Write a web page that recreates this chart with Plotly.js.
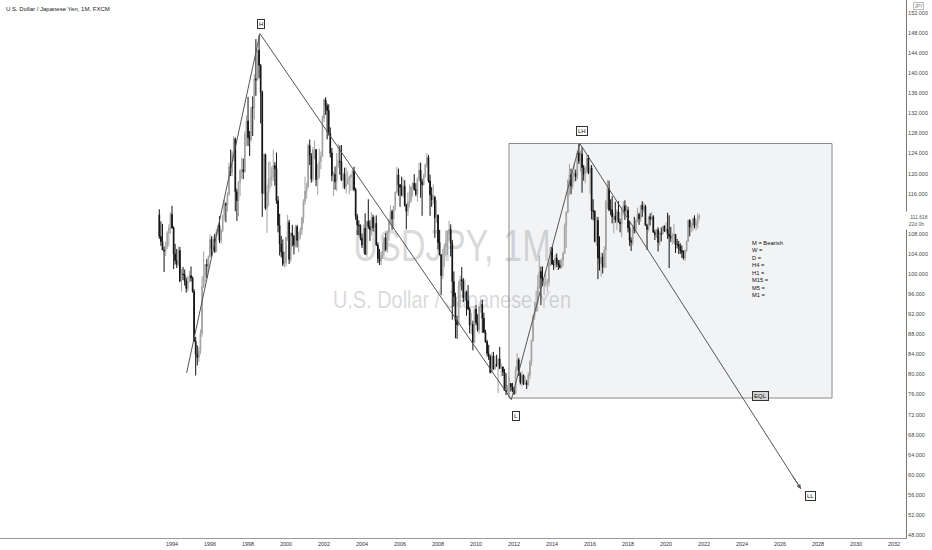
<!DOCTYPE html>
<html><head><meta charset="utf-8">
<script src="https://cdn.plot.ly/plotly-3.0.1.min.js"></script>
<style>html,body{margin:0;padding:0;background:#fff}#chart{width:932px;height:550px}</style>
</head><body><div id="chart"></div>
<script>
// USD/JPY monthly candles, May 1993 .. Oct 2021
const startYear = 1993, startMonth = 5;
const openP = [
111.8,107.5,106.5,104.8,104.6,105.6,108.2,109.2,
111.9,109.2,104.0,102.7,101.9,104.7,98.6,100.0,99.9,98.6,97.1,98.6,
99.7,99.2,96.5,86.6,84.0,83.4,84.7,88.2,97.5,99.7,101.9,101.6,
103.4,106.9,105.0,106.9,104.5,108.3,109.6,106.7,108.7,111.5,114.0,113.8,
115.9,121.4,120.2,124.0,126.9,116.4,114.6,118.3,120.6,120.8,120.4,127.9,
130.5,127.2,126.8,133.2,133.1,138.9,138.7,144.6,141.6,136.2,116.1,123.8,
113.1,116.3,118.9,118.9,119.4,121.6,121.0,114.6,109.7,106.0,104.4,102.0,
102.2,107.3,110.3,102.9,108.2,107.6,105.8,109.4,106.7,107.9,108.8,111.2,
114.4,116.5,117.4,125.6,123.6,118.9,124.7,124.8,118.8,119.3,122.4,123.4,
131.0,134.7,133.5,132.6,128.0,124.1,119.6,119.9,118.4,121.8,122.5,122.4,
118.7,119.9,117.3,118.0,118.9,119.3,119.8,120.6,116.8,111.5,109.8,109.6,
107.2,105.8,109.1,103.9,110.5,109.5,108.8,111.3,109.2,110.1,105.8,103.1,
102.6,103.6,104.6,107.2,104.9,108.5,110.8,112.5,111.0,113.5,116.3,119.8,
117.8,117.3,115.8,117.5,113.8,112.5,114.4,114.6,117.4,118.1,116.9,115.9,
119.0,120.7,118.4,117.8,119.5,121.7,123.2,118.6,115.8,114.8,115.3,111.2,
111.7,106.3,103.8,99.7,104.0,105.5,106.2,108.1,108.9,106.1,98.5,95.5,
90.7,89.9,97.6,98.9,98.6,95.3,96.4,94.7,93.0,89.8,90.0,86.4,
93.0,90.3,88.9,93.5,94.0,91.2,88.4,86.5,84.2,83.5,80.4,83.7,
81.1,82.0,81.8,83.1,81.2,81.5,80.5,76.8,76.6,77.1,78.2,77.6,
76.9,76.2,80.9,82.9,80.0,78.4,79.8,78.1,78.4,77.9,79.8,82.5,
86.8,91.7,92.6,94.2,97.4,100.5,99.2,97.9,98.2,98.3,98.4,102.4,
105.3,102.0,101.8,103.2,102.2,101.8,101.3,102.8,104.1,109.6,112.3,118.6,
119.8,117.5,119.6,120.1,119.4,124.1,122.5,123.9,121.2,119.9,120.6,123.1,
120.2,121.1,112.6,112.5,106.5,110.7,103.2,102.1,103.4,101.4,104.8,114.5,
117.0,112.8,112.8,111.4,111.5,110.8,112.4,110.3,110.0,112.5,113.6,112.5,
112.7,109.2,106.7,106.3,109.3,108.8,110.7,111.9,111.0,113.7,112.9,113.5,
109.7,108.9,111.4,110.9,111.4,108.3,107.8,108.8,106.3,108.1,108.0,109.5,
108.6,108.9,107.9,107.5,107.2,107.8,107.9,105.9,105.9,105.5,104.7,104.3,
103.2,104.7,106.6,110.7,109.3,109.6,111.1,109.7,110.0,111.3
];
const highP = [
112.9,110.5,110.0,105.5,106.5,108.6,109.9,112.3,
113.6,109.5,106.0,105.0,105.5,105.4,101.0,101.4,100.9,99.3,99.6,100.6,
101.5,99.5,97.0,87.5,85.8,85.5,89.0,99.5,104.5,101.5,103.0,103.7,
107.9,107.5,107.5,108.0,109.0,109.7,111.5,108.9,111.8,114.8,114.3,116.3,
122.2,124.8,124.5,127.5,127.2,117.0,118.5,120.9,123.2,123.0,128.5,131.6,
135.3,128.5,133.2,135.4,139.8,146.8,144.7,147.6,141.8,136.5,124.0,124.0,
117.8,122.4,122.4,121.4,124.8,122.3,124.2,115.5,112.0,107.6,106.9,104.5,
107.4,111.8,110.8,108.2,109.8,107.7,109.8,109.8,108.4,109.3,111.4,114.9,
119.4,118.2,126.0,126.8,124.1,125.3,126.6,124.9,121.9,125.0,124.4,131.6,
135.0,135.2,134.0,133.8,129.2,125.1,120.4,121.4,124.1,126.0,125.6,125.7,
120.3,121.2,121.2,120.5,119.6,119.9,120.9,121.4,117.2,112.0,110.7,109.9,
108.1,109.8,112.1,110.5,114.9,110.7,112.3,111.8,111.5,111.7,106.3,105.0,
104.6,106.3,107.4,108.2,108.5,111.0,113.7,112.8,113.6,116.4,121.4,121.0,
117.9,119.4,119.0,118.7,114.0,116.3,117.8,117.4,118.3,119.9,118.1,119.2,
122.2,122.2,119.0,120.0,122.0,124.1,123.7,119.8,117.3,117.9,115.6,114.7,
111.9,108.8,104.0,105.0,106.0,108.6,108.6,110.6,109.9,106.8,100.5,96.3,
91.7,98.6,99.7,101.4,99.2,98.9,96.7,97.8,93.4,92.3,90.7,93.1,
93.8,92.0,93.7,95.0,94.9,92.3,88.9,86.9,85.9,83.9,84.4,84.5,
83.7,83.9,83.3,85.5,82.2,81.6,81.1,80.2,77.9,79.5,78.3,78.3,
77.5,81.6,84.2,83.3,80.4,80.6,80.0,79.6,78.9,80.4,82.8,86.9,
91.8,94.5,96.7,99.9,103.7,101.5,101.5,99.1,100.6,99.0,102.6,105.4,
105.4,102.8,103.8,104.1,102.8,102.8,103.1,104.5,110.1,112.5,118.9,121.9,
121.0,120.5,122.0,120.8,124.5,125.9,124.6,125.3,121.7,121.5,123.8,123.7,
121.7,121.7,114.9,112.7,111.4,111.4,107.5,104.3,104.2,105.5,114.8,118.7,
118.6,114.9,115.5,112.2,114.4,112.9,114.5,111.0,113.3,114.5,114.7,113.8,
113.4,110.5,107.3,109.8,111.4,111.0,113.2,112.2,113.7,114.5,114.2,113.8,
110.0,111.5,112.1,112.4,111.7,108.8,109.0,109.3,108.5,109.3,109.7,109.7,
110.3,112.2,111.7,109.4,108.1,109.9,107.9,107.0,106.6,106.1,105.7,104.7,
104.9,106.7,110.9,110.9,110.2,111.1,111.7,110.8,112.1,112.0
];
const lowP = [
107.0,105.6,104.8,100.4,103.6,105.0,105.5,108.0,
109.0,101.0,101.9,101.2,101.5,98.4,96.5,98.8,97.7,96.3,96.5,98.4,
98.5,96.3,86.6,79.8,81.8,82.5,84.0,87.5,97.2,98.4,99.2,100.5,
103.3,103.5,104.7,104.2,104.3,107.7,106.2,106.0,108.4,110.6,110.3,112.5,
115.6,119.5,119.5,122.5,112.5,110.6,111.5,115.5,119.0,118.9,120.2,125.5,
125.5,123.5,126.4,127.5,130.8,135.5,138.5,139.0,130.0,111.4,115.9,112.8,
108.2,113.5,117.0,117.5,118.5,117.6,114.0,108.3,103.7,103.3,101.6,101.3,
101.5,106.6,102.0,102.4,105.5,103.9,105.3,105.3,104.3,107.0,107.8,110.1,
113.8,115.0,117.1,121.7,118.2,118.3,122.9,117.5,115.8,119.0,120.9,123.3,
130.3,131.7,126.8,127.6,123.2,118.5,115.5,116.8,116.5,121.1,119.8,118.6,
117.0,116.9,116.1,117.8,115.9,116.6,116.7,116.5,110.8,107.8,107.7,106.7,
105.2,104.2,103.9,103.4,109.0,106.6,107.7,108.5,108.3,105.6,102.2,101.8,
101.7,103.0,103.7,104.5,104.2,106.6,109.8,108.8,109.0,112.6,116.0,115.6,
113.4,115.5,115.3,113.4,108.9,111.5,113.3,114.1,115.4,116.6,115.5,114.4,
118.5,115.2,111.6,117.6,119.1,121.2,118.2,111.6,113.4,113.9,107.2,110.2,
104.9,103.8,95.8,99.0,101.4,103.5,103.8,106.7,103.5,90.9,93.5,87.2,
87.1,89.6,93.5,96.7,94.4,94.6,91.7,92.9,88.2,88.0,84.8,86.3,
89.8,88.5,88.1,92.3,88.3,88.2,86.3,83.6,82.9,80.2,80.3,80.9,
81.0,81.5,76.3,81.1,79.6,79.7,76.7,75.9,75.9,75.6,76.6,76.5,
75.9,76.1,80.7,79.7,78.0,77.7,77.9,78.0,77.1,77.8,79.1,81.7,
86.5,90.9,92.5,92.6,97.0,93.8,97.6,95.8,97.5,96.6,97.6,101.6,
101.8,100.8,101.2,101.4,100.8,101.1,101.1,101.5,104.1,105.2,112.2,115.6,
115.9,116.9,118.3,118.5,118.9,121.9,120.4,116.2,118.6,118.1,120.1,119.9,
115.9,110.9,110.7,106.3,105.6,99.0,100.7,99.5,100.1,101.2,101.2,112.9,
112.5,111.7,110.1,108.1,110.2,108.8,110.3,108.3,107.3,111.7,110.8,111.9,
108.3,105.6,104.6,105.7,108.1,108.1,110.3,109.8,110.4,111.4,112.3,109.6,
104.8,108.5,109.7,110.8,108.3,106.8,107.2,104.5,105.7,106.5,107.9,108.4,
108.3,107.0,101.2,106.4,105.9,106.1,104.2,105.1,104.0,104.0,103.2,102.9,
102.6,104.4,106.4,107.5,108.3,108.6,109.1,108.7,109.1,110.8
];
const closeP = [
107.5,106.5,104.8,104.6,105.6,108.2,109.2,111.9,
109.2,104.0,102.7,101.9,104.7,98.6,100.0,99.9,98.6,97.1,98.6,99.7,
99.2,96.5,86.6,84.0,83.4,84.7,88.2,97.5,99.7,101.9,101.6,103.4,
106.9,105.0,106.9,104.5,108.3,109.6,106.7,108.7,111.5,114.0,113.8,115.9,
121.4,120.2,124.0,126.9,116.4,114.6,118.3,120.6,120.8,120.4,127.9,130.5,
127.2,126.8,133.2,133.1,138.9,138.7,144.6,141.6,136.2,116.1,123.8,113.1,
116.3,118.9,118.9,119.4,121.6,121.0,114.6,109.7,106.0,104.4,102.0,102.2,
107.3,110.3,102.9,108.2,107.6,105.8,109.4,106.7,107.9,108.8,111.2,114.4,
116.5,117.4,125.6,123.6,118.9,124.7,124.8,118.8,119.3,122.4,123.4,131.0,
134.7,133.5,132.6,128.0,124.1,119.6,119.9,118.4,121.8,122.5,122.4,118.7,
119.9,117.3,118.0,118.9,119.3,119.8,120.6,116.8,111.5,109.8,109.6,107.2,
105.8,109.1,103.9,110.5,109.5,108.8,111.3,109.2,110.1,105.8,103.1,102.6,
103.6,104.6,107.2,104.9,108.5,110.8,112.5,111.0,113.5,116.3,119.8,117.8,
117.3,115.8,117.5,113.8,112.5,114.4,114.6,117.4,118.1,116.9,115.9,119.0,
120.7,118.4,117.8,119.5,121.7,123.2,118.6,115.8,114.8,115.3,111.2,111.7,
106.3,103.8,99.7,104.0,105.5,106.2,108.1,108.9,106.1,98.5,95.5,90.7,
89.9,97.6,98.9,98.6,95.3,96.4,94.7,93.0,89.8,90.0,86.4,93.0,
90.3,88.9,93.5,94.0,91.2,88.4,86.5,84.2,83.5,80.4,83.7,81.1,
82.0,81.8,83.1,81.2,81.5,80.5,76.8,76.6,77.1,78.2,77.6,76.9,
76.2,80.9,82.9,80.0,78.4,79.8,78.1,78.4,77.9,79.8,82.5,86.8,
91.7,92.6,94.2,97.4,100.5,99.2,97.9,98.2,98.3,98.4,102.4,105.3,
102.0,101.8,103.2,102.2,101.8,101.3,102.8,104.1,109.6,112.3,118.6,119.8,
117.5,119.6,120.1,119.4,124.1,122.5,123.9,121.2,119.9,120.6,123.1,120.2,
121.1,112.6,112.5,106.5,110.7,103.2,102.1,103.4,101.4,104.8,114.5,117.0,
112.8,112.8,111.4,111.5,110.8,112.4,110.3,110.0,112.5,113.6,112.5,112.7,
109.2,106.7,106.3,109.3,108.8,110.7,111.9,111.0,113.7,112.9,113.5,109.7,
108.9,111.4,110.9,111.4,108.3,107.8,108.8,106.3,108.1,108.0,109.5,108.6,
108.9,107.9,107.5,107.2,107.8,107.9,105.9,105.9,105.5,104.7,104.3,103.2,
104.7,106.6,110.7,109.3,109.6,111.1,109.7,110.0,111.3,111.618
];
// price-scale tick labels (112 is hidden behind the last-price label)
const yTicks = [48,52,56,60,64,68,72,76,80,84,88,92,96,100,104,108,116,120,124,128,132,136,140,144,148,152];
// time-scale labels
const xTickYears = ['1994','1996','1998','2000','2002','2004','2006','2008','2010','2012','2014','2016','2018','2020','2022','2024','2026','2028','2030','2032'];
// hand-drawn trend lines: start, H, L, LH, LL
const drawDates = ['1994-10-08','1998-08-18','2011-11-10','2015-06-20','2027-02-06'];
const drawPrices = [80.3, 147.9, 75.0, 126.0, 57.2];
// swing labels
const swingText = ['H','L','LH','EQL','LL'];
const swingDates = ['1998-09-16','2012-02-08','2015-07-30','2024-12-15','2027-08-17'];
const swingPrices = [149.9, 71.7, 128.5, 75.8, 55.8];
// range box
const boxDates = ['2011-09-26','2028-09-26'];
const boxPrices = [75.3, 126.0];
const biasLines = ['M = Bearish','W =','D =','H4 =','H1 =','M15 =','M5 =','M1 ='];
const remainText = '22d 0h';
// watermark
const wmTitle = 'USDJPY, 1M';
const wmSub = 'U.S. Dollar / Japanese Yen';
const wmDates = ['2004-01-01','2013-06-20'];
const wmTitlePrices = [102.5, 110.46];
const wmSubPrices = [93.33, 97.33];

const dates = openP.map((_, i) => {
  const m = startMonth - 1 + i;
  const y = startYear + Math.floor(m / 12);
  return y + '-' + String(m % 12 + 1).padStart(2, '0') + '-01';
});

const FONT = 'Liberation Sans, Arial, sans-serif';

const candles = {
  type: 'candlestick', x: dates, open: openP, high: highP, low: lowP, close: closeP,
  increasing: {line: {color: '#a2a2a2', width: 1}, fillcolor: '#a2a2a2'},
  decreasing: {line: {color: '#111111', width: 1}, fillcolor: '#111111'},
  whiskerwidth: 0, hoverinfo: 'skip', showlegend: false
};
const lines = {
  type: 'scatter', mode: 'lines', x: drawDates, y: drawPrices,
  line: {color: '#555555', width: 1}, hoverinfo: 'skip', showlegend: false
};

const annotations = [];
swingText.forEach((t, i) => {
  annotations.push({
    x: swingDates[i], y: swingPrices[i], xref: 'x', yref: 'y', text: t, showarrow: false,
    font: {family: FONT, size: 6, color: '#111'},
    bgcolor: t === 'EQL' ? '#d4d4d4' : '#ffffff', bordercolor: '#333', borderwidth: 1, borderpad: 1
  });
});
annotations.push({
  x: drawDates[4], y: drawPrices[4], xref: 'x', yref: 'y', text: '', showarrow: true,
  ax: -9, ay: -14, arrowhead: 2, arrowsize: 0.9, arrowwidth: 1, arrowcolor: '#555'
});
annotations.push({
  x: 750 / 906, y: 1 - 238 / 538, xref: 'paper', yref: 'paper', xanchor: 'left', yanchor: 'top',
  text: biasLines.join('<br>'), align: 'left', showarrow: false,
  font: {family: FONT, size: 5.75, color: '#111'}
});
annotations.push({
  x: 4 / 906, y: 1 - 9 / 538, xref: 'paper', yref: 'paper', xanchor: 'left', yanchor: 'middle',
  text: 'U.S. Dollar / Japanese Yen, 1M, FXCM', showarrow: false,
  font: {family: FONT, size: 6, color: '#131722'}
});
annotations.push({
  x: 918 / 906, y: 1 - 6 / 538, xref: 'paper', yref: 'paper', xanchor: 'center', yanchor: 'middle',
  text: 'JPY', showarrow: false, font: {family: FONT, size: 4.5, color: '#777'},
  bordercolor: '#bbb', borderwidth: 1, borderpad: 0.5, bgcolor: '#fff'
});
annotations.push({
  x: 903 / 906, y: 1 - 220 / 538, xref: 'paper', yref: 'paper', xanchor: 'left', yanchor: 'middle',
  text: '   ' + closeP[closeP.length - 1].toFixed(3) + '<br>  ' + remainText, align: 'left', showarrow: false,
  font: {family: FONT, size: 5, color: '#555'}, bgcolor: '#ffffff', borderpad: 2
});

const wmColor = 'rgba(120,123,134,0.3)';
const shapes = [
  {type: 'rect', xref: 'x', yref: 'y', x0: boxDates[0], x1: boxDates[1], y0: boxPrices[0], y1: boxPrices[1],
   fillcolor: '#f2f3f5', line: {color: '#8a8a8a', width: 1}, layer: 'below'},
  {type: 'rect', xref: 'x', yref: 'y', x0: wmDates[0], x1: wmDates[1], y0: wmTitlePrices[0], y1: wmTitlePrices[1],
   line: {width: 0}, fillcolor: 'rgba(0,0,0,0)', layer: 'below',
   label: {text: wmTitle, textposition: 'middle center', font: {family: FONT, size: 44, color: wmColor}}},
  {type: 'rect', xref: 'x', yref: 'y', x0: wmDates[0], x1: wmDates[1], y0: wmSubPrices[0], y1: wmSubPrices[1],
   line: {width: 0}, fillcolor: 'rgba(0,0,0,0)', layer: 'below',
   label: {text: wmSub, textposition: 'middle center', font: {family: FONT, size: 24, color: wmColor}}}
];

const layout = {
  width: 932, height: 550,
  margin: {l: 0, r: 26, t: 0, b: 12, pad: 0},
  paper_bgcolor: '#ffffff', plot_bgcolor: '#ffffff',
  showlegend: false,
  xaxis: {
    type: 'date', range: ['1984-12-12', '2032-08-18'],
    tickvals: xTickYears.map(y => y + '-01-01'), ticktext: xTickYears,
    showgrid: false, zeroline: false, showline: true, linecolor: '#9a9a9a', linewidth: 1,
    ticks: '', tickfont: {family: FONT, size: 5.5, color: '#333'},
    rangeslider: {visible: false}, fixedrange: true
  },
  yaxis: {
    side: 'right', range: [47.42, 154.59], tickvals: yTicks, tickformat: '.3f',
    showgrid: false, zeroline: false, showline: true, linecolor: '#777', linewidth: 1,
    ticks: '', tickfont: {family: FONT, size: 5.5, color: '#444'}, fixedrange: true
  },
  shapes: shapes,
  annotations: annotations
};

Plotly.newPlot('chart', [candles, lines], layout, {staticPlot: true, displayModeBar: false}).then(() => {
  // the reference watermark uses a condensed face: narrow the glyphs horizontally
  const squeeze = {};
  squeeze[wmTitle] = 0.78;
  squeeze[wmSub] = 0.83;
  document.querySelectorAll('#chart text').forEach(t => {
    const k = squeeze[t.textContent];
    if (k) {
      t.style.transformBox = 'fill-box';
      t.style.transformOrigin = 'center';
      t.style.transform = 'scaleX(' + k + ')';
    }
  });
});
</script></body></html>
